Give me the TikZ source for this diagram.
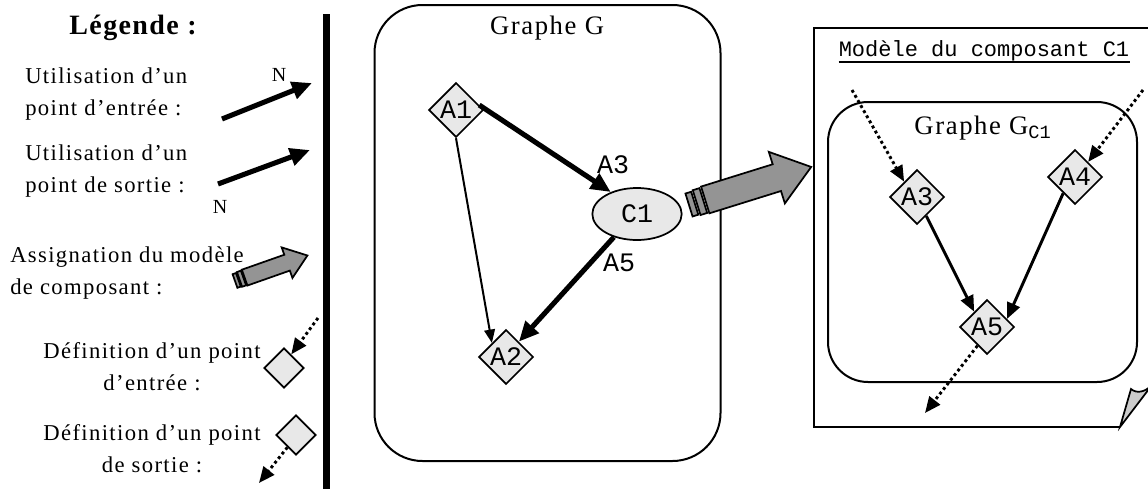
\documentclass[tikz,border=0pt]{standalone}
\usepackage{fontspec}
\setmainfont{Liberation Serif}
\newfontfamily\codefont{Liberation Mono}
\newfontfamily\widefont[LetterSpace=6]{Liberation Serif}
\newfontfamily\widebold[LetterSpace=5]{Liberation Serif Bold}
\usetikzlibrary{arrows.meta,shapes.geometric,calc}

\definecolor{nodegray}{gray}{0.91}
\definecolor{arrowgray}{gray}{0.58}
\definecolor{curlgray}{gray}{0.8}

\tikzset{
  box/.style={draw, line width=1.5pt},
  blockstate/.style={diamond, draw, line width=1.3pt, fill=nodegray, inner sep=0pt,
    minimum width=41pt, minimum height=41pt, font=\codefont\fontsize{20}{20}\selectfont},
  smallstate/.style={diamond, draw, line width=1.3pt, fill=nodegray, inner sep=0pt,
    minimum width=30pt, minimum height=30pt},
  compo/.style={ellipse, draw, line width=1.3pt, fill=nodegray, inner sep=0pt,
    minimum width=67pt, minimum height=39pt, font=\codefont\fontsize{20}{20}\selectfont},
  codelabel/.style={font=\codefont\fontsize{20}{20}\selectfont, inner sep=0pt},
  legendtext/.style={font=\widefont\fontsize{17}{24}\selectfont, inner sep=0pt},
  titletext/.style={font=\widefont\fontsize{20}{20}\selectfont, inner sep=0pt},
  heavy/.style={line width=3.8pt, -{Triangle[length=15pt,width=13pt]}},
  medium/.style={line width=2.2pt, -{Triangle[length=12pt,width=10pt]}},
  light/.style={line width=1.5pt, -{Triangle[length=10pt,width=8pt]}},
  dotarrow/.style={line width=2.2pt, dash pattern=on 2.2pt off 2.2pt,
    -{Triangle[length=12pt,width=10pt,sep=0pt]}},
  fatarrow/.pic={
    \begin{scope}[line width=1.3pt, fill=arrowgray, draw=black]
      \filldraw (0,-12) rectangle (6,12);
      \filldraw (8,-13) rectangle (15,13);
      \filldraw (17,-14) -- (92,-14) -- (92,-27) -- (128,0) -- (92,27) -- (92,14)
        -- (17,14) -- cycle;
    \end{scope}
  }
}

\begin{document}
\begin{tikzpicture}[x=0.75pt,y=-0.75pt]
\useasboundingbox (0,0) rectangle (1148,489);

% ---------- legend ----------
\node[font=\widebold\fontsize{21}{21}\selectfont, inner sep=0pt] (legtitle) at (133,28) {Légende :};

\node[legendtext, align=left, anchor=west] (useIn) at (25,94) {Utilisation d’un\\point d’entrée :};
\coordinate (useInA) at (222,119);
\coordinate (useInB) at (312,83);
\draw[heavy] (useInA) -- (useInB);
\node[font=\fontsize{15}{15}\selectfont, inner sep=0pt] (nIn) at (279,75) {N};

\node[legendtext, align=left, anchor=west] (useOut) at (25,171) {Utilisation d’un\\point de sortie :};
\coordinate (useOutA) at (218,184);
\coordinate (useOutB) at (310,150);
\draw[heavy] (useOutA) -- (useOutB);
\node[font=\fontsize{15}{15}\selectfont, inner sep=0pt] (nOut) at (220,207) {N};

\node[legendtext, align=left, anchor=west] (assign) at (10,273) {Assignation du modèle\\de composant :};
\pic[rotate=19.4, scale=0.6] at (235,281) {fatarrow};

\node[legendtext, align=center] (defIn) at (152,367) {Définition d’un point\\d’entrée :};
\node[smallstate] (D1) at (284,368) {};
\coordinate (defInSrc) at (318,318);
\draw[dotarrow] (defInSrc) -- (D1.62);

\node[legendtext, align=center] (defOut) at (152,449) {Définition d’un point\\de sortie :};
\node[smallstate] (D2) at (296,435) {};
\coordinate (defOutDst) at (259,483);
\draw[dotarrow] (D2.235) -- (defOutDst);

% separator bar
\draw[line width=5.3pt] (326.5,14) -- (326.5,489);

% ---------- graph G ----------
\node[box, rounded corners=36pt, minimum width=259.5pt, minimum height=342pt, inner sep=0pt]
  (G) at (547.5,233) {};
\node[titletext] (Gtitle) at (547,28) {Graphe G};

\node[blockstate] (A1) at (456,110) {A1};
\node[blockstate] (A2) at (506,357) {A2};
\node[compo] (C1) at (637,214) {C1};

\draw[heavy] (A1.12) -- (C1.140);
\draw[heavy] (C1.225) -- (A2.50);
\draw[light] (A1.south) -- (A2.north west);
\node[codelabel] (lA3) at (613,165) {A3};
\node[codelabel] (lA5) at (619,263) {A5};

% component model assignment
\pic[rotate=17.3] at (689,205) {fatarrow};

% ---------- model of component C1 ----------
\draw[box] (1154,28) -- (814,28) -- (814,427) -- (1120,427);
\filldraw[line width=1.3pt, fill=curlgray] (1120,427) -- (1131,389)
  .. controls (1137,394) and (1145,392) .. (1152,385) -- cycle;
\node[font=\codefont\fontsize{16.5}{16.5}\selectfont, inner sep=0pt] (Mtitle) at (984,51)
  {Modèle du composant C1};
\draw[line width=1.4pt] (Mtitle.south west |- 0,62) -- (Mtitle.south east |- 0,62);

\node[box, rounded corners=30pt, minimum width=231.75pt, minimum height=210pt, inner sep=0pt]
  (GC) at (982.5,242) {};
\node[titletext] (GCtitle) at (983,128)
  {Graphe G\textsubscript{\codefont C1}};

\node[blockstate] (B3) at (917,197) {A3};
\node[blockstate] (B4) at (1075,177) {A4};
\node[blockstate] (B5) at (987,327) {A5};

\draw[medium] (B3.-64) -- (B5.130);
\draw[medium] (B4.234) -- (B5.22);

\coordinate (inA3) at (852,90);
\coordinate (inA4) at (1143,90);
\coordinate (outA5) at (925,413);
\draw[dotarrow] (inA3) -- (B3.130);
\draw[dotarrow] (inA4) -- (B4.49);
\draw[dotarrow] (B5.243) -- (outA5);
\end{tikzpicture}
\end{document}
